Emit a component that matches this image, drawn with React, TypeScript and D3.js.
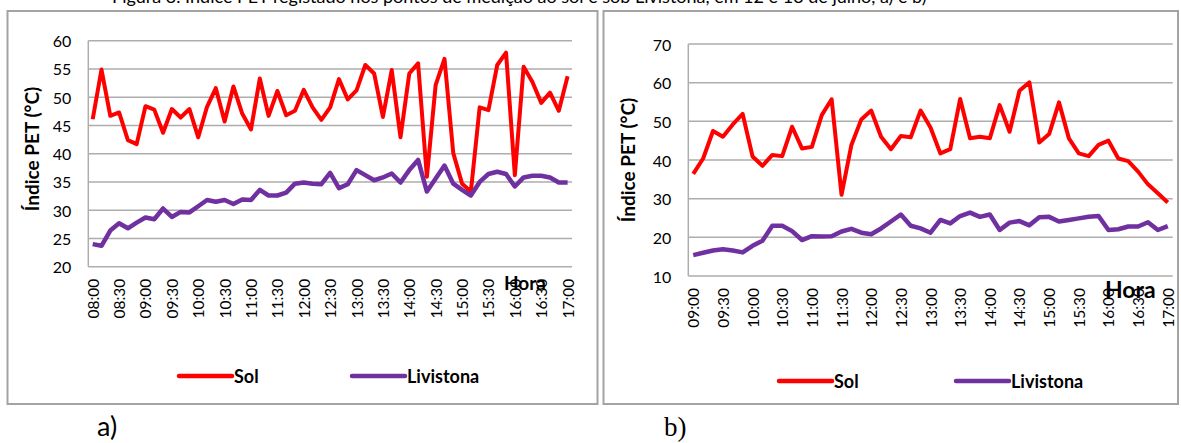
import * as d3 from "d3";
import React from "react";

// --- data (10-minute readings) ---
const horasA = d3.range(0, 55).map(i => {
    const t = 8 * 60 + i * 10;
    return `${String(Math.floor(t / 60)).padStart(2, "0")}:${String(t % 60).padStart(2, "0")}`;
});
const solA = [
    46.1, 54.9, 46.7, 47.3, 42.4, 41.7, 48.4, 47.8, 43.7, 47.9,
    46.4, 47.9, 42.9, 48.3, 51.6, 45.7, 51.9, 47.1, 44.3, 53.3,
    46.7, 51.1, 46.8, 47.6, 51.3, 48.2, 46.0, 48.2, 53.2, 49.6,
    51.2, 55.7, 54.2, 46.5, 54.8, 42.9, 54.2, 56.0, 35.9, 52.2,
    56.8, 40.1, 34.7, 33.3, 48.2, 47.7, 55.7, 57.9, 36.2, 55.4,
    52.7, 49.0, 50.8, 47.6, 53.7,
];
const livistonaA = [
    24.0, 23.7, 26.4, 27.7, 26.8, 27.8, 28.7, 28.4, 30.3, 28.8,
    29.7, 29.6, 30.7, 31.8, 31.5, 31.8, 31.1, 31.9, 31.8, 33.6,
    32.6, 32.6, 33.1, 34.7, 34.9, 34.7, 34.6, 36.6, 33.9, 34.6,
    37.1, 36.2, 35.3, 35.8, 36.5, 34.9, 37.1, 38.9, 33.3, 35.6,
    37.9, 34.7, 33.6, 32.6, 35.0, 36.4, 36.8, 36.4, 34.2, 35.8,
    36.1, 36.1, 35.8, 34.9, 34.9,
];
const ticksA = [20, 25, 30, 35, 40, 45, 50, 55, 60];

const horasB = horasA.slice(6);
const solB = [
    36.4, 40.4, 47.5, 46.0, 49.2, 51.9, 40.9, 38.5, 41.3, 41.0,
    48.6, 43.0, 43.4, 51.6, 55.7, 31.0, 43.9, 50.5, 52.8, 46.0,
    42.8, 46.2, 45.9, 52.8, 48.4, 41.7, 42.8, 55.8, 45.6, 46.0,
    45.6, 54.2, 47.3, 57.9, 60.1, 44.5, 46.7, 54.9, 45.6, 41.7,
    41.0, 43.9, 45.0, 40.4, 39.7, 37.0, 33.7, 31.4, 29.0,
];
const livistonaB = [
    15.4, 16.0, 16.6, 16.9, 16.6, 16.1, 17.8, 19.1, 23.0, 23.0,
    21.6, 19.3, 20.3, 20.2, 20.3, 21.5, 22.2, 21.2, 20.8, 22.3,
    24.1, 25.9, 23.0, 22.3, 21.2, 24.5, 23.6, 25.5, 26.4, 25.3,
    25.9, 21.9, 23.8, 24.2, 23.1, 25.2, 25.3, 24.1, 24.5, 24.9,
    25.3, 25.5, 21.9, 22.1, 22.8, 22.8, 23.9, 21.9, 22.9,
];
const ticksB = [10, 20, 30, 40, 50, 60, 70];

const FONT = "Lato, 'Open Sans', sans-serif";
const RED = "#FF0000";
const PURPLE = "#7030A0";
const GRID = "#ADADAD";

type PanelProps = {
    box: [number, number, number, number];
    plot: { left: number; right: number; top: number; bottom: number };
    horas: string[];
    sol: number[];
    livistona: number[];
    ticks: number[];
    titleY: number;
    hora: { x: number; y: number; size: number };
    legendY: number;
    legendX: [number, number];
};

const Panel: React.FC<PanelProps> = ({ box, plot, horas, sol, livistona, ticks, titleY, hora, legendY, legendX }) => {
    const x = d3.scaleBand<string>().domain(horas).range([plot.left, plot.right]).padding(0);
    const y = d3.scaleLinear().domain([ticks[0], ticks[ticks.length - 1]]).range([plot.bottom, plot.top]);
    const cx = (i: number) => x(horas[i])! + x.bandwidth() / 2;
    const line = d3.line<number>().x((_, i) => cx(i)).y(d => y(d));
    const [bx, by, bw, bh] = box;
    return (
        <g>
            <rect x={bx} y={by} width={bw} height={bh} fill="#fff" stroke="#A3A3A3" strokeWidth={2} />
            {ticks.map(t => (
                <g key={t}>
                    <line x1={plot.left} x2={plot.right} y1={y(t)} y2={y(t)} stroke={GRID} strokeWidth={1.5} />
                    <text x={plot.left - 17} y={y(t)} textAnchor="end" dominantBaseline="central"
                        fontSize={16} fill="#000">{t}</text>
                </g>
            ))}
            <line x1={plot.left} x2={plot.left} y1={plot.top} y2={plot.bottom} stroke={GRID} strokeWidth={1.5} />
            {horas.map((h, i) => i % 3 === 0 && (
                <text key={h} transform={`translate(${cx(i)},${plot.bottom + 12}) rotate(-90)`}
                    textAnchor="end" dominantBaseline="central" fontSize={15.5} fill="#000">{h}</text>
            ))}
            <text transform={`translate(${bx + 24},${titleY}) rotate(-90)`} textAnchor="middle"
                dominantBaseline="central" fontSize={19} fontWeight="bold">Índice PET (°C)</text>
            <text x={hora.x} y={hora.y} fontSize={hora.size} fontWeight="bold">Hora</text>
            <path d={line(sol) ?? undefined} fill="none" stroke={RED} strokeWidth={4} strokeLinejoin="round" />
            <path d={line(livistona) ?? undefined} fill="none" stroke={PURPLE} strokeWidth={4.5} strokeLinejoin="round" />
            {[{ c: RED, t: "Sol", x0: legendX[0] }, { c: PURPLE, t: "Livistona", x0: legendX[1] }].map(l => (
                <g key={l.t}>
                    <line x1={l.x0} x2={l.x0 + 53} y1={legendY} y2={legendY} stroke={l.c} strokeWidth={4.5} strokeLinecap="round" />
                    <text x={l.x0 + 55} y={legendY} dominantBaseline="central" fontSize={18} fontWeight="bold">{l.t}</text>
                </g>
            ))}
        </g>
    );
};

export default function App() {
    return (
        <div style={{ position: "fixed", left: 0, top: 0 }}>
            <svg width={1181} height={443} fontFamily={FONT} style={{ display: "block", background: "#fff" }}>
                <text x={112} y={3} fontSize={18} fill="#000">
                    Figura 3. Índice PET registado nos pontos de medição ao sol e sob Livistona, em 12 e 13 de julho, a) e b)
                </text>
                <Panel box={[7.5, 11, 590, 393]} plot={{ left: 88.3, right: 572, top: 40.7, bottom: 266.7 }}
                    horas={horasA} sol={solA} livistona={livistonaA} ticks={ticksA} titleY={149}
                    hora={{ x: 504, y: 290, size: 19 }} legendY={376} legendX={[179, 352]} />
                <Panel box={[603.5, 11, 574.5, 393]} plot={{ left: 688.3, right: 1172.7, top: 44, bottom: 276 }}
                    horas={horasB} sol={solB} livistona={livistonaB} ticks={ticksB} titleY={160}
                    hora={{ x: 1105, y: 298, size: 23 }} legendY={381} legendX={[779, 956]} />
                <text x={97} y={436} fontSize={27}>a)</text>
                <text x={664} y={436} fontSize={27} fontFamily="'Liberation Serif', serif">b)</text>
            </svg>
        </div>
    );
}
